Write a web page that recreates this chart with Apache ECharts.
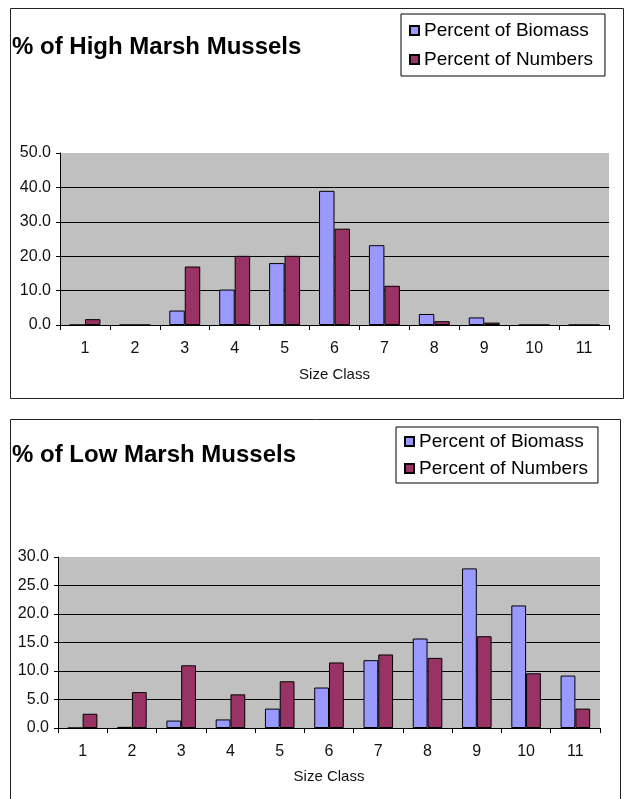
<!DOCTYPE html>
<html>
<head>
<meta charset="utf-8">
<script src="https://cdn.jsdelivr.net/npm/echarts@6/dist/echarts.min.js"></script>
<style>html,body{margin:0;padding:0;background:#fff;}#c{width:625px;height:799px;}</style>
</head>
<body>
<div id="c"></div>
<script>
var categories = ['1','2','3','4','5','6','7','8','9','10','11'];
var highBiomass = [0, 0, 4.2, 10.3, 18.0, 39.0, 23.2, 3.2, 2.2, 0, 0];
var highNumbers = [1.7, 0, 17.0, 20.1, 20.1, 28.0, 11.4, 1.1, 0.7, 0, 0];
var lowBiomass = [0, 0.2, 1.3, 1.5, 3.4, 7.1, 11.9, 15.7, 28.0, 21.5, 9.2];
var lowNumbers = [2.5, 6.3, 11.0, 5.9, 8.2, 11.5, 12.9, 12.3, 16.1, 9.6, 3.4];
var seriesNames = ['Percent of Biomass', 'Percent of Numbers'];
var titles = ['% of High Marsh Mussels', '% of Low Marsh Mussels'];

var FONT = 'Liberation Sans, Arial, sans-serif';
var C_BIO = '#9999FF', C_NUM = '#993366';

function xAx(gi){
  return {
    type:'category', gridIndex:gi, data:categories,
    axisLine:{show:true, lineStyle:{color:'#000', width:1}},
    axisTick:{show:true, alignWithLabel:false, length:5, lineStyle:{color:'#000'}},
    axisLabel:{fontFamily:FONT, fontSize:16, color:'#111', margin:16},
    name:'Size Class', nameLocation:'middle', nameGap:gi===0?42:41,
    nameTextStyle:{fontFamily:FONT, fontSize:15, color:'#111'},
    splitLine:{show:false}
  };
}
function yAx(gi, max, interval){
  return {
    type:'value', gridIndex:gi, min:0, max:max, interval:interval,
    axisLine:{show:true, lineStyle:{color:'#000', width:1}},
    axisTick:{show:true, inside:false, length:4, lineStyle:{color:'#000'}},
    axisLabel:{fontFamily:FONT, fontSize:16, color:'#111', margin:9,
      formatter:function(v){return v.toFixed(1);}},
    splitLine:{show:true, showMaxLine:false, lineStyle:{color:'#000', width:1}}
  };
}
function bar(name, gi, data, color, gap){
  return {
    type:'bar', name:name, xAxisIndex:gi, yAxisIndex:gi, data:data,
    barGap:'0%', barCategoryGap:gap,
    itemStyle:{color:color, borderColor:'#000', borderWidth:1},
    emphasis:{disabled:true}, animation:false
  };
}
function legend(left, top, padding, gap, iw){
  return {
    orient:'vertical', left:left, top:top, padding:padding, itemGap:gap,
    itemWidth:iw, itemHeight:iw,
    borderColor:'#000', borderWidth:1, backgroundColor:'#fff',
    textStyle:{fontFamily:FONT, fontSize:19, color:'#000', lineHeight:19},
    data:seriesNames.map(function(n){return {name:n, icon:'rect'};}),
    selectedMode:false
  };
}

var chart = echarts.init(document.getElementById('c'), null, {renderer:'canvas'});
chart.setOption({
  animation:false,
  backgroundColor:'#fff',
  title:[
    {text:titles[0], left:12, top:35, padding:0, textStyle:{fontFamily:FONT, fontSize:24, fontWeight:'bold', color:'#000'}},
    {text:titles[1], left:12, top:443, padding:0, textStyle:{fontFamily:FONT, fontSize:24, fontWeight:'bold', color:'#000'}}
  ],
  legend:[
    legend(401, 14, [7,12,7,8], 10, 9),
    legend(396, 427, [5,10,5,8], 8, 9)
  ],
  grid:[
    {left:60, top:153, width:549, height:172, show:true, backgroundColor:'#C0C0C0', borderWidth:0, containLabel:false},
    {left:58, top:557, width:542, height:171, show:true, backgroundColor:'#C0C0C0', borderWidth:0, containLabel:false}
  ],
  xAxis:[xAx(0), xAx(1)],
  yAxis:[yAx(0, 50, 10), yAx(1, 30, 5)],
  series:[
    bar(seriesNames[0], 0, highBiomass, C_BIO, '38%'),
    bar(seriesNames[1], 0, highNumbers, C_NUM, '38%'),
    bar(seriesNames[0], 1, lowBiomass, C_BIO, '40%'),
    bar(seriesNames[1], 1, lowNumbers, C_NUM, '40%')
  ],
  graphic:[
    {type:'rect', shape:{x:10.5, y:8.5, width:613, height:390}, style:{fill:'none', stroke:'#222', lineWidth:1}, silent:true},
    {type:'rect', shape:{x:10.5, y:419.5, width:610, height:390}, style:{fill:'none', stroke:'#222', lineWidth:1}, silent:true}
  ]
});
</script>
</body>
</html>
